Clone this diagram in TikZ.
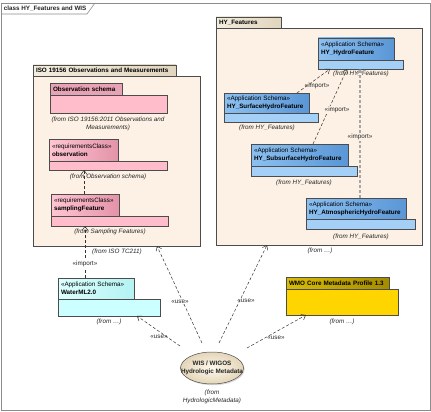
\documentclass[tikz,border=0pt]{standalone}
\usepackage{fontspec}
\setmainfont{Liberation Sans}
\usepackage{tikz}
\usetikzlibrary{arrows.meta,calc,shadows,shapes.geometric}
\newcommand{\diafont}{\fontsize{6.3}{7.8}\selectfont}
\definecolor{pkgbg}{HTML}{FCF1E4}
\definecolor{pkgtabl}{HTML}{F3EDE0}
\definecolor{pkgtabr}{HTML}{E0D5BE}
\definecolor{pinkl}{HTML}{FFC6D2}
\definecolor{pinkr}{HTML}{E393A8}
\definecolor{pinkbg}{HTML}{FFBCCA}
\definecolor{bluel}{HTML}{8CC0F0}
\definecolor{bluer}{HTML}{5A96D6}
\definecolor{bluebg}{HTML}{A4D0F7}
\definecolor{cyanl}{HTML}{DDFFFF}
\definecolor{cyanr}{HTML}{B4F2F2}
\definecolor{cyanbg}{HTML}{CCFFFF}
\definecolor{goldl}{HTML}{D9BD05}
\definecolor{goldr}{HTML}{A48C00}
\definecolor{goldbg}{HTML}{FFD500}
\definecolor{elll}{HTML}{FFFAEE}
\definecolor{ellr}{HTML}{E3D5B8}
\definecolor{framec}{HTML}{8C8C8C}
\tikzset{
	box/.style 2 args={rectangle,draw=black!70,line width=0.5pt,anchor=north west,inner xsep=3pt,inner ysep=0pt,outer sep=0pt,text width=#1-6pt,minimum height=#2,align=left,drop shadow={shadow xshift=1.2pt,shadow yshift=-1.2pt,fill=black!30}},
	lbl/.style={inner sep=0.6pt,text=black!85},
	fromnote/.style={lbl,font=\diafont\itshape,align=center},
	dep/.style={draw=black!80,line width=0.5pt,dash pattern=on 3pt off 2pt,-{Straight Barb[length=4pt,width=6pt]}}
}
\begin{document}
\begin{tikzpicture}[x=1pt,y=-1pt,font=\diafont]
\useasboundingbox (0,0) rectangle (431,412);
\draw[framec,line width=0.6pt] (1,3) rectangle (430,410);
\draw[framec,line width=0.6pt] (1,14) -- (87,14) -- (95,3);
\node[lbl,font=\diafont\bfseries,anchor=west] (title) at (3,8.5) {class HY\_Features and WIS};

\node[box={167pt}{170pt},fill=pkgbg] (isoB) at (33,76) {};
\node[box={143pt}{11pt},left color=pkgtabl,right color=pkgtabr,font=\diafont\bfseries] (isoT) at (33,65) {ISO 19156 Observations and Measurements};
\node[box={117pt}{18pt},fill=pinkbg] (osB) at (50,95) {};
\node[box={72pt}{12pt},fill=pinkr!85,font=\diafont\bfseries] (osT) at (50,83) {Observation schema};
\node[fromnote] (osF) at (108,123.5) {(from ISO 19156:2011 Observations and\\Measurements)};
\node[box={118pt}{9pt},fill=pinkbg] (obD) at (49,161) {};
\node[box={69pt}{22pt},left color=pinkl,right color=pinkr] (obU) at (49,139) {«requirementsClass»\\\textbf{observation}};
\node[fromnote] (obF) at (108,177) {(from Observation schema)};
\node[box={117pt}{10pt},fill=pinkbg] (sfD) at (51,216) {};
\node[box={68pt}{22pt},left color=pinkl,right color=pinkr] (sfU) at (51,194) {«requirementsClass»\\\textbf{samplingFeature}};
\node[fromnote] (sfF) at (110,232) {(from Sampling Features)};
\node[fromnote] (isoF) at (117,252) {(from ISO TC211)};

\node[box={102pt}{17pt},fill=cyanbg] (wmD) at (58,299) {};
\node[box={76pt}{21pt},left color=cyanl,right color=cyanr] (wmU) at (58,278) {«Application Schema»\\\textbf{WaterML2.0}};
\node[fromnote] (wmF) at (109,322) {(from …)};

\node[box={206pt}{217pt},fill=pkgbg] (hyB) at (216,28) {};
\node[box={65pt}{11pt},left color=pkgtabl,right color=pkgtabr,font=\diafont\bfseries] (hyT) at (216,17) {HY\_Features};
\node[fromnote] (hyF) at (320,251) {(from …)};
\node[box={85pt}{9pt},fill=bluebg] (hfD) at (318,60) {};
\node[box={76pt}{22pt},left color=bluel,right color=bluer] (hfU) at (318,38) {«Application Schema»\\\textbf{HY\_HydroFeature}};
\node[fromnote] (hfF) at (361,74) {(from HY\_Features)};
\node[box={94pt}{9pt},fill=bluebg] (sfcD) at (224,113) {};
\node[box={85pt}{20pt},left color=bluel,right color=bluer] (sfcU) at (224,93) {«Application Schema»\\\textbf{HY\_SurfaceHydroFeature}};
\node[fromnote] (sfcF) at (267,128) {(from HY\_Features)};
\node[box={106pt}{10pt},fill=bluebg] (subD) at (251,166) {};
\node[box={97pt}{22pt},left color=bluel,right color=bluer] (subU) at (251,144) {«Application Schema»\\\textbf{HY\_SubsurfaceHydroFeature}};
\node[fromnote] (subF) at (304,183) {(from HY\_Features)};
\node[box={109pt}{10pt},fill=bluebg] (atmD) at (306,219) {};
\node[box={100pt}{21pt},left color=bluel,right color=bluer] (atmU) at (306,198) {«Application Schema»\\\textbf{HY\_AtmosphericHydroFeature}};
\node[fromnote] (atmF) at (361,237) {(from HY\_Features)};

\node[box={112pt}{26pt},fill=goldbg] (wmoB) at (286,289) {};
\node[box={103pt}{12pt},left color=goldl,right color=goldr,font=\diafont\bfseries] (wmoT) at (286,277) {WMO Core Metadata Profile 1.3};
\node[fromnote] (wmoF) at (342,322) {(from …)};

\node[ellipse,draw=black!70,line width=0.5pt,minimum width=63pt,minimum height=32pt,inner sep=0pt,inner color=elll,outer color=ellr,drop shadow={shadow xshift=1.2pt,shadow yshift=-1.2pt,fill=black!30}] (wis) at (212,368) {};
\node[lbl,font=\diafont\bfseries,align=center] (wisT) at (wis.center) {WIS / WIGOS\\Hydrologic Metadata};
\node[fromnote] (wisF) at (212,396.5) {(from\\HydrologicMetadata)};

\draw[dep] ($(sfU.north west)+(33,0)$) -- ($(obD.south west)+(35,0)$);
\draw[dep] ($(wmU.north west)+(27,0)$) -- ($(sfD.south west)+(34,0)$);
\draw[dep] ($(sfcU.north west)+(73,0)$) -- ($(hfD.south west)+(12,0)$);
\draw[dep] ($(subU.north west)+(62,0)$) -- ($(hfD.south west)+(29,0)$);
\draw[dep,draw=black!35,line width=1.3pt] ($(atmU.north west)+(54,0)$) -- ($(hfD.south west)+(42,0)$);
\draw[dep] ($(wis.center)+(-32,-22)$) -- ($(wmD.south west)+(79,0)$);
\draw[dep] ($(wis.center)+(-10,-25)$) -- ($(isoB.south west)+(124,0)$);
\draw[dep] ($(wis.center)+(7,-25)$) -- ($(hyB.south west)+(51,0)$);
\draw[dep] ($(wis.center)+(35,-20)$) -- ($(wmoB.south west)+(20,0)$);

\node[lbl,fill=white] (imp1) at (85,264) {«import»};
\node[lbl] (imp2) at (317,86) {«import»};
\node[lbl,fill=pkgbg] (imp3) at (337,110) {«import»};
\node[lbl,fill=pkgbg] (imp4) at (360,137) {«import»};
\node[lbl] (use1) at (159,337) {«use»};
\node[lbl,fill=white] (use2) at (180,302) {«use»};
\node[lbl] (use3) at (246,301) {«use»};
\node[lbl] (use4) at (276,338) {«use»};
\end{tikzpicture}
\end{document}
